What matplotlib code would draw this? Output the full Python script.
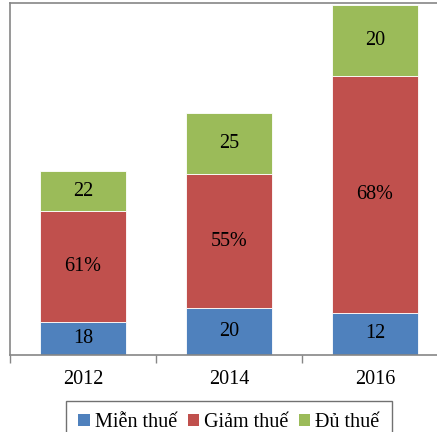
import matplotlib.pyplot as plt
from matplotlib.patches import Patch

plt.rcParams["font.family"] = ["Liberation Serif", "DejaVu Serif"]

# === Data ===
years = ["2012", "2014", "2016"]
mien_thue = [33, 47, 42]      # segment heights (relative units)
giam_thue = [111, 134, 237]
du_thue = [40, 61, 71]

mien_labels = ["18", "20", "12"]
giam_labels = ["61%", "55%", "68%"]
du_labels = ["22", "25", "20"]

series_names = ["Miễn thuế", "Giảm thuế", "Đủ thuế"]
colors = ["#4F81BD", "#C0504D", "#9BBB59"]
axis_gray = "#868686"

# === Figure ===
fig = plt.figure(figsize=(4.37, 4.32), dpi=100)
ax = fig.add_axes([10 / 437, 1 - 355 / 432, 438 / 437, 352.5 / 432])

x = range(len(years))
bottom = [0] * len(years)
for vals, labels, color in zip([mien_thue, giam_thue, du_thue],
                               [mien_labels, giam_labels, du_labels], colors):
    bars = ax.bar(x, vals, width=0.59, bottom=bottom, color=color,
                  edgecolor="white", linewidth=0.6)
    ax.bar_label(bars, labels=labels, label_type="center", fontsize=14.5, color="black")
    bottom = [b + v for b, v in zip(bottom, vals)]

ax.set_xlim(-0.5, 2.5)
ax.set_ylim(0, 352.5)

# ticks at category boundaries, labels at centres
ax.set_xticks([-0.5, 0.5, 1.5, 2.5])
ax.set_xticklabels([])
ax.set_xticks(list(x), minor=True)
ax.set_xticklabels(years, minor=True, fontsize=14.5)
ax.tick_params(axis="x", which="major", direction="out", length=6, color=axis_gray, width=1)
ax.tick_params(axis="x", which="minor", length=0, pad=11)
ax.set_yticks([])

for side in ["left", "top", "bottom"]:
    ax.spines[side].set_color(axis_gray)
    ax.spines[side].set_linewidth(1.2)
ax.spines["right"].set_visible(False)

# ---------- Legend ----------
handles = [Patch(facecolor=c, edgecolor="none") for c in colors]
leg = fig.legend(handles, series_names, loc="upper center", bbox_to_anchor=(0.524, 1 - 401 / 432),
                 ncol=3, fontsize=14.5, frameon=True, fancybox=False, borderaxespad=0,
                 handlelength=0.55, handleheight=0.55, handletextpad=0.25,
                 columnspacing=0.55, borderpad=0.6)
leg.get_frame().set_edgecolor("#4d4d4d")
leg.get_frame().set_linewidth(1.0)

plt.savefig("out.png", dpi=100)
plt.close()
